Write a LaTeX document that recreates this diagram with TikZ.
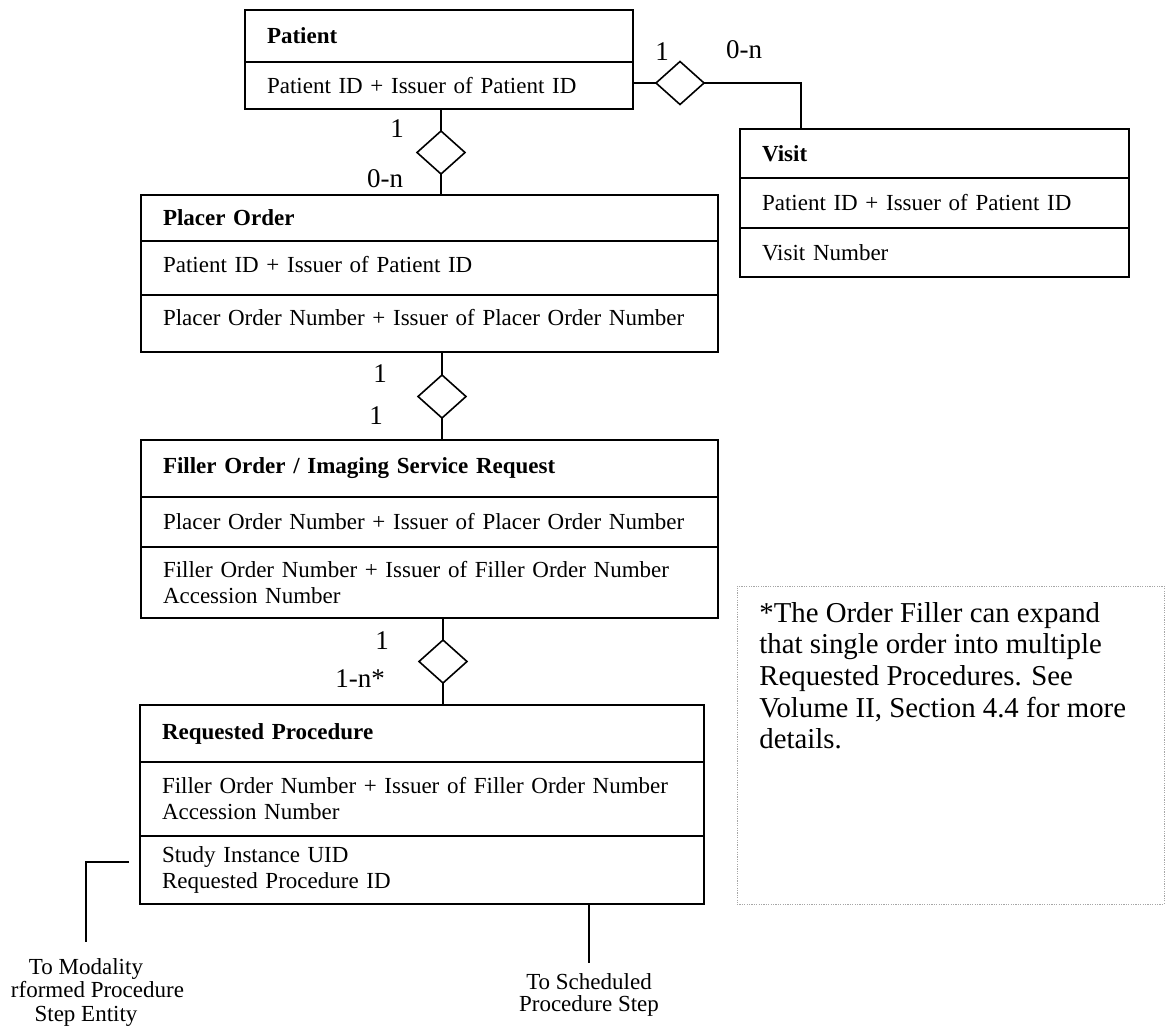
\documentclass[tikz,border=0pt]{standalone}
\usepackage{fontspec}
\setmainfont{Liberation Serif}
\usetikzlibrary{positioning,shapes.geometric}

\tikzset{
  ent/.style={draw, line width=0.9pt, rectangle, anchor=north west, outer sep=0pt, inner xsep=11pt, inner ysep=1pt, align=left, font=\fontsize{11.5}{13}\selectfont},
  enthead/.style={ent, font=\fontsize{11.5}{13}\selectfont\bfseries},
  rel/.style={draw, diamond, line width=0.8pt, inner sep=0pt, outer sep=0pt, minimum width=24pt, minimum height=21.5pt},
  card/.style={inner sep=0pt, font=\fontsize{13.5}{15}\selectfont},
  link/.style={line width=0.8pt},
  tolabel/.style={inner sep=0pt, align=center},
}

\begin{document}
\begin{tikzpicture}[x=0.5pt, y=-0.5pt]
\useasboundingbox (0,0) rectangle (1165,1028);

% Patient
\node[enthead, text width=172pt, minimum height=26pt] (pat-h) at (245,10) {Patient};
\node[ent, text width=172pt, minimum height=23.5pt, below=0pt of pat-h] (pat-r1) {Patient ID + Issuer of Patient ID};

% Visit
\node[enthead, text width=172.5pt, minimum height=24.5pt] (vis-h) at (740,129) {Visit};
\node[ent, text width=172.5pt, minimum height=25pt, below=0pt of vis-h] (vis-r1) {Patient ID + Issuer of Patient ID};
\node[ent, text width=172.5pt, minimum height=24.5pt, below=0pt of vis-r1] (vis-r2) {Visit Number};

% Placer Order
\node[enthead, text width=266.5pt, minimum height=23pt] (plc-h) at (141,195) {Placer Order};
\node[ent, text width=266.5pt, minimum height=27pt, text depth=4pt, below=0pt of plc-h] (plc-r1) {Patient ID + Issuer of Patient ID};
\node[ent, text width=266.5pt, minimum height=28.5pt, text depth=6.5pt, below=0pt of plc-r1] (plc-r2) {Placer Order Number + Issuer of Placer Order Number};

% Filler Order
\node[enthead, text width=266.5pt, minimum height=28.5pt] (fil-h) at (141,440) {Filler Order / Imaging Service Request};
\node[ent, text width=266.5pt, minimum height=25pt, below=0pt of fil-h] (fil-r1) {Placer Order Number + Issuer of Placer Order Number};
\node[ent, text width=266.5pt, minimum height=35.5pt, below=0pt of fil-r1] (fil-r2) {Filler Order Number + Issuer of Filler Order Number\\Accession Number};

% Requested Procedure
\node[enthead, text width=260pt, minimum height=28.5pt] (req-h) at (140,705) {Requested Procedure};
\node[ent, text width=260pt, minimum height=37pt, below=0pt of req-h] (req-r1) {Filler Order Number + Issuer of Filler Order Number\\Accession Number};
\node[ent, text width=260pt, minimum height=34pt, below=0pt of req-r1] (req-r2) {Study Instance UID\\Requested Procedure ID};

% relationships
\node[rel] (d1) at (680,83) {};
\node[rel] (d2) at (441,152.5) {};
\node[rel] (d3) at (442,396.5) {};
\node[rel] (d4) at (443,661.5) {};

\draw[link] (pat-r1.east |- d1) -- (d1.west);
\coordinate (vis-in) at ([xshift=30.5pt]vis-h.north west);
\draw[link] (d1.east) -| (vis-in);
\draw[link] (d2.north |- pat-r1.south) -- (d2.north);
\draw[link] (d2.south) -- (d2.south |- plc-h.north);
\draw[link] (d3.north |- plc-r2.south) -- (d3.north);
\draw[link] (d3.south) -- (d3.south |- fil-h.north);
\draw[link] (d4.north |- fil-r2.south) -- (d4.north);
\draw[link] (d4.south) -- (d4.south |- req-h.north);

\node[card] (c-pv1) at (662,52) {1};
\node[card] (c-pv2) at (744,50) {0-n};
\node[card] (c-po1) at (397,129) {1};
\node[card] (c-po2) at (385,179) {0-n};
\node[card] (c-of1) at (380,374) {1};
\node[card] (c-of2) at (376,416) {1};
\node[card] (c-fr1) at (382,641) {1};
\node[card] (c-fr2) at (360,679) {1-n*};

% to other entities
\node[tolabel, font=\fontsize{11.5}{11.75}\selectfont] (mpps) at (86,992) {To Modality\\\hphantom{Pe}rformed Procedure\\Step Entity};
\node[tolabel, font=\fontsize{11.5}{10.85}\selectfont] (sps) at (589,995) {To Scheduled\\Procedure Step};
\draw[link] ([xshift=-5.5pt,yshift=4pt]req-r2.west) -| ([yshift=7.8pt]mpps.north);
\draw[link] (req-r2.south -| sps.north) -- ([yshift=5.3pt]sps.north);

% note
\node[draw=gray!70, dash pattern=on 0.6pt off 0.6pt, line width=0.5pt, anchor=north west, minimum width=213.5pt, minimum height=159pt, inner sep=0pt, outer sep=0pt] (note) at (737,586) {};
\node[inner sep=0pt, align=left, font=\fontsize{14.4}{15.85}\selectfont, below right=7.85pt and 11pt of note.north west] (note-txt) {*The Order Filler can expand\\that single order into multiple\\Requested Procedures. See\\Volume II, Section 4.4 for more\\details.};

\end{tikzpicture}
\end{document}
